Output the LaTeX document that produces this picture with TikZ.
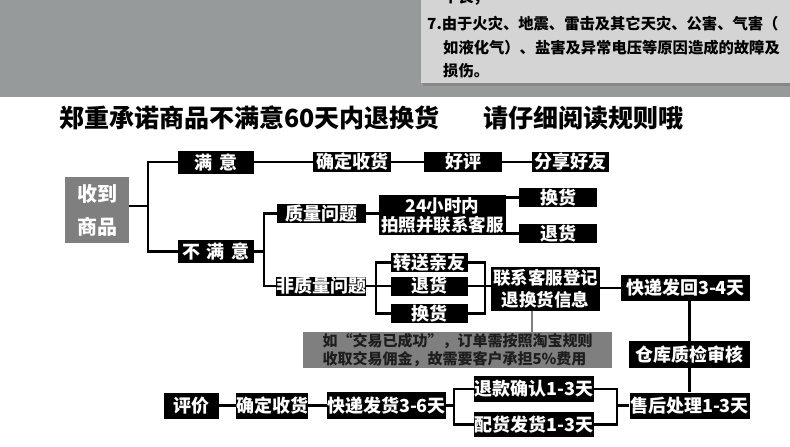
\documentclass[tikz,border=0pt]{standalone}
\usepackage{fontspec}
\setmainfont{Noto Sans CJK SC}
\definecolor{topgray}{HTML}{979A9B}
\definecolor{panelc}{HTML}{D4D4D4}
\definecolor{shadowc}{HTML}{868888}
\definecolor{boxgray}{HTML}{7F7F7F}
\definecolor{notetext}{HTML}{1E1E1E}
\begin{document}
\begin{tikzpicture}[x=1pt,y=-1pt,
  blk/.style={fill=black,text=white,inner sep=0pt,font=\bfseries\fontsize{18}{19}\selectfont},
  gbox/.style={fill=boxgray,text=white,inner sep=0pt},
  conn/.style={line width=2.5pt},
  gline/.style={line width=2pt,draw=boxgray},
  paneltext/.style={anchor=west,inner sep=0pt,font=\bfseries\fontsize{15.3}{16}\selectfont},
  titletext/.style={anchor=west,inner sep=0pt,font=\bfseries\fontsize{25}{25}\selectfont}]
\useasboundingbox (0,0) rectangle (790,447);
\fill[white] (0,0) rectangle (790,447);
% top band and notice panel
\fill[topgray] (0,0) rectangle (790,97);
\fill[shadowc] (423,0) rectangle (790,86);
\fill[panelc] (421,0) rectangle (790,83);
\begin{scope}
\clip (421,0) rectangle (790,83);
\node[paneltext] (p0) at (443,-3) {不良；};
\end{scope}
\node[paneltext] (p1) at (427,24) {7.由于火灾、地震、雷击及其它天灾、公害、气害（};
\node[paneltext] (p2) at (443,48) {如液化气）、盐害及异常电压等原因造成的故障及};
\node[paneltext] (p3) at (443,71) {损伤。};
% title
\node[titletext] (t1) at (59,118) {郑重承诺商品不满意60天内退换货};
\node[titletext] (t2) at (483,118) {请仔细阅读规则哦};
% nodes
\node[gbox,minimum width=64pt,minimum height=66pt,align=center,font=\bfseries\fontsize{20}{33}\selectfont] (recv) at (97,210) {收到\\商品};
\node[blk,minimum width=76pt,minimum height=23pt] (sat) at (216,162) {满\hspace{8pt}意};
\node[blk,minimum width=76pt,minimum height=23pt] (unsat) at (216,251.5) {不\hspace{7pt}满\hspace{7pt}意};
\node[blk,minimum width=78pt,minimum height=20pt] (confirm1) at (352,162) {确定收货};
\node[blk,minimum width=78pt,minimum height=20pt] (good) at (463,162) {好评};
\node[blk,minimum width=77pt,minimum height=20pt] (share) at (570.5,162) {分享好友};
\node[blk,minimum width=89pt,minimum height=19pt] (qual) at (321.5,213.5) {质量问题};
\node[blk,minimum width=88pt,minimum height=19pt] (nonq) at (321,286) {非质量问题};
\node[blk,minimum width=127pt,minimum height=40pt,align=center,font=\bfseries\fontsize{17.5}{19}\selectfont] (h24) at (442.5,215) {24小时内\\拍照并联系客服};
\node[blk,minimum width=78pt,minimum height=19pt] (exch1) at (558,197.5) {换货};
\node[blk,minimum width=78pt,minimum height=19pt] (ret1) at (558,233.5) {退货};
\node[blk,minimum width=77pt,minimum height=19pt] (fwd) at (429.5,262.5) {转送亲友};
\node[blk,minimum width=77pt,minimum height=19pt] (ret2) at (429.5,286) {退货};
\node[blk,minimum width=77pt,minimum height=19pt] (exch2) at (429.5,313.5) {换货};
\node[blk,minimum width=109pt,minimum height=44pt,align=center,font=\bfseries\fontsize{17.5}{22}\selectfont] (contact) at (545.5,289) {联系客服登记\\退换货信息};
\node[blk,minimum width=129pt,minimum height=26pt] (back) at (685.5,288) {快递发回3-4天};
\node[gbox,text=notetext,minimum width=309pt,minimum height=36pt,align=left,font=\bfseries\fontsize{15}{18}\selectfont] (note) at (457.5,350) {如“交易已成功”，订单需按照淘宝规则\\收取交易佣金，故需要客户承担5\%费用};
\node[blk,minimum width=121pt,minimum height=27pt] (qc) at (689.5,354.5) {仓库质检审核};
\node[blk,minimum width=120pt,minimum height=26pt] (after) at (689.5,405.5) {售后处理1-3天};
\node[blk,minimum width=120pt,minimum height=26pt] (refund) at (534,389) {退款确认1-3天};
\node[blk,minimum width=120pt,minimum height=25pt] (ship) at (534,424.5) {配货发货1-3天};
\node[blk,minimum width=117pt,minimum height=27pt] (exp) at (386.5,405.5) {快递发货3-6天};
\node[blk,minimum width=72pt,minimum height=26pt] (confirm2) at (272,405.5) {确定收货};
\node[blk,minimum width=55pt,minimum height=26pt] (rate) at (191.5,405.5) {评价};
% connectors
\coordinate (b1) at (148,206);
\draw[conn] (recv.east |- b1) -- (b1);
\draw[conn] (sat.west) -| (b1) |- (unsat.west);
\draw[conn] (sat.east) -- (confirm1.west);
\draw[conn] (confirm1.east) -- (good.west);
\draw[conn] (good.east) -- (share.west);
\coordinate (b2) at (264,251.5);
\draw[conn] (unsat.east) -- (b2);
\draw[conn] (qual.west) -| (b2) |- (nonq.west);
\draw[conn] (qual.east) -- (qual.east -| h24.west);
\draw[conn] (exch1.west -| h24.east) -- (exch1.west);
\draw[conn] (ret1.west -| h24.east) -- (ret1.west);
\coordinate (b3) at (376,286);
\draw[conn] (nonq.east) -- (ret2.west);
\draw[conn] (fwd.west) -| (b3) |- (exch2.west);
\coordinate (b4) at (485,286);
\draw[conn] (fwd.east) -| (b4) |- (exch2.east);
\draw[conn] (ret2.east) -- (ret2.east -| contact.west);
\draw[conn] (contact.east |- back.west) -- (back.west);
\draw[gline] ([xshift=-13.5pt]contact.south) -- ([xshift=-13.5pt]contact.south |- note.north);
\draw[conn] (back.south -| qc.north) -- (qc.north);
\draw[conn] (qc.south) -- (after.north);
\coordinate (b5) at (617,405.5);
\draw[conn] (after.west) -- (b5);
\draw[conn] (refund.east) -| (b5) |- (ship.east);
\coordinate (b6) at (454,405.5);
\draw[conn] (refund.west) -| (b6) |- (ship.west);
\draw[conn] (exp.east) -- (b6);
\draw[conn] (exp.west) -- (confirm2.east);
\draw[conn] (confirm2.west) -- (rate.east);
\end{tikzpicture}
\end{document}
